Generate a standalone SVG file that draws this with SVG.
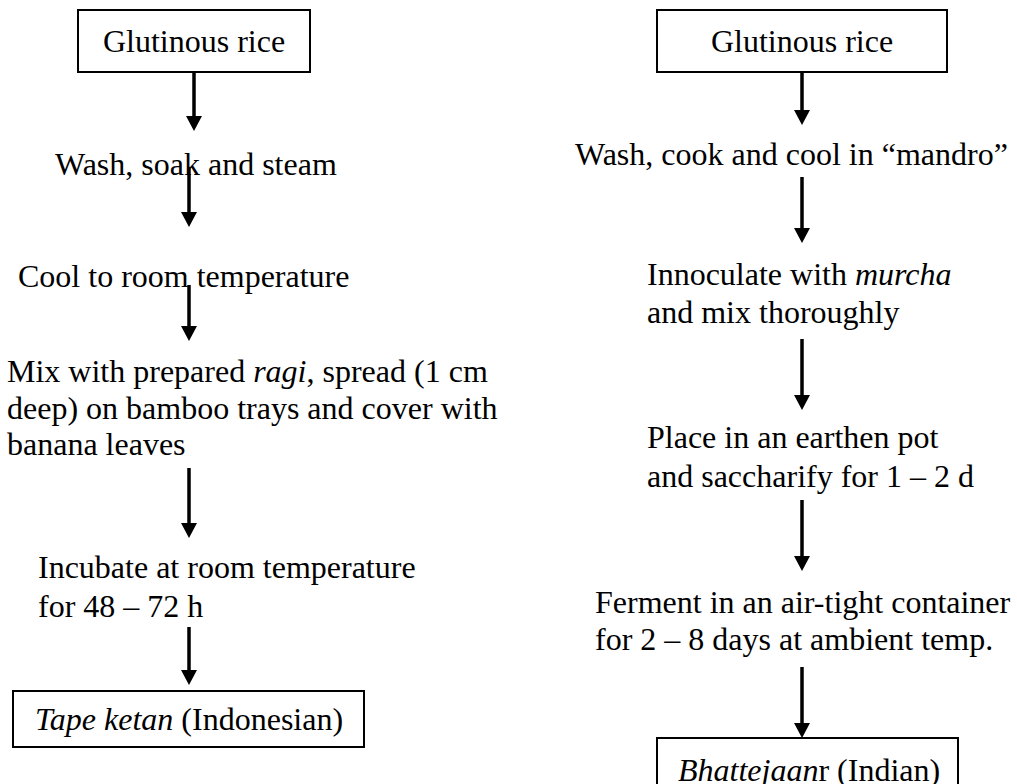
<svg xmlns="http://www.w3.org/2000/svg" width="1017" height="784" viewBox="0 0 1017 784">
  <style>
    text { font-family: "Liberation Serif", "Times New Roman", serif; font-size: 32px; fill: #000; }
    .it { font-style: italic; }
    .box { fill: #fff; stroke: #000; stroke-width: 2; }
    .arrow { stroke: #000; stroke-width: 3.5; fill: none; marker-end: url(#head); }
  </style>
  <defs>
    <marker id="head" markerUnits="userSpaceOnUse" markerWidth="16" markerHeight="16" refX="0" refY="8" orient="auto" overflow="visible">
      <path d="M0,0 L15,8 L0,16 Z" fill="#000"/>
    </marker>
  </defs>
  <rect width="1017" height="784" fill="#fff"/>

  <!-- connectors -->
  <g id="connectors">
    <line class="arrow" x1="194" y1="72" x2="194" y2="116"/>
    <line class="arrow" x1="189" y1="167" x2="189" y2="212"/>
    <line class="arrow" x1="189" y1="285" x2="189" y2="326"/>
    <line class="arrow" x1="189" y1="468" x2="189" y2="523"/>
    <line class="arrow" x1="189" y1="627" x2="189" y2="670"/>

    <line class="arrow" x1="802" y1="72" x2="802" y2="110"/>
    <line class="arrow" x1="802" y1="177" x2="802" y2="228"/>
    <line class="arrow" x1="802" y1="339" x2="802" y2="395"/>
    <line class="arrow" x1="802" y1="500" x2="802" y2="556"/>
    <line class="arrow" x1="802" y1="667" x2="802" y2="723"/>
  </g>

  <!-- left flow: tape ketan -->
  <g id="l-rice">
    <rect class="box" x="78" y="10" width="232" height="62"/>
    <text x="194" y="52" text-anchor="middle">Glutinous rice</text>
  </g>
  <g id="l-wash">
    <text x="55" y="175">Wash, soak and steam</text>
  </g>
  <g id="l-cool">
    <text x="18" y="287">Cool to room temperature</text>
  </g>
  <g id="l-mix">
    <text x="7" y="382">Mix with prepared <tspan class="it">ragi</tspan>, spread (1 cm</text>
    <text x="7" y="419">deep) on bamboo trays and cover with</text>
    <text x="7" y="455">banana leaves</text>
  </g>
  <g id="l-incubate">
    <text x="38" y="578">Incubate at room temperature</text>
    <text x="38" y="617">for 48 – 72 h</text>
  </g>
  <g id="l-product">
    <rect class="box" x="13" y="691" width="351" height="56"/>
    <text x="35" y="730"><tspan class="it">Tape ketan</tspan> (Indonesian)</text>
  </g>

  <!-- right flow: bhattejaanr -->
  <g id="r-rice">
    <rect class="box" x="657" y="10" width="290" height="62"/>
    <text x="802" y="52" text-anchor="middle">Glutinous rice</text>
  </g>
  <g id="r-wash">
    <text x="575" y="165">Wash, cook and cool in “mandro”</text>
  </g>
  <g id="r-inoculate">
    <text x="647" y="285">Innoculate with <tspan class="it">murcha</tspan></text>
    <text x="647" y="323">and mix thoroughly</text>
  </g>
  <g id="r-place">
    <text x="647" y="448">Place in an earthen pot</text>
    <text x="647" y="487">and saccharify for 1 – 2 d</text>
  </g>
  <g id="r-ferment">
    <text x="595" y="613">Ferment in an air-tight container</text>
    <text x="595" y="650">for 2 – 8 days at ambient temp.</text>
  </g>
  <g id="r-product">
    <rect class="box" x="657" y="738" width="301" height="70"/>
    <text x="678" y="781"><tspan class="it">Bhattejaan</tspan>r (Indian)</text>
  </g>
</svg>
